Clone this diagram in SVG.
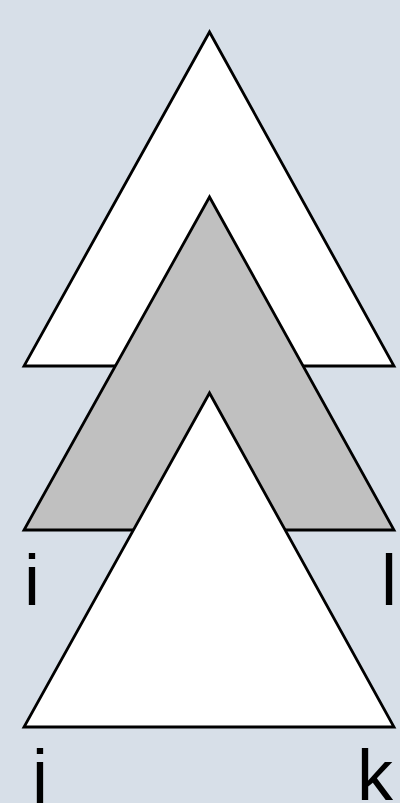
<svg xmlns="http://www.w3.org/2000/svg" width="400" height="803" viewBox="0 0 400 803">
<style>
.tri{stroke:#000;stroke-width:2.8;stroke-linejoin:miter}
.w{fill:#fff}
.g{fill:#c0c0c0}
.lbl{font-family:"Liberation Sans",Arial,sans-serif;font-size:72px;fill:#000}
</style>
<rect width="400" height="803" fill="#d7dfe8"/>
<g id="top"><polygon class="tri w" points="209.5,32 24,366 394,366"/></g>
<g id="middle"><polygon class="tri g" points="209.5,197 24,530 394,530"/></g>
<g id="bottom"><polygon class="tri w" points="209.5,393 24,727 394,727"/></g>
<g id="labels">
<text class="lbl" x="24" y="605">i</text>
<text class="lbl" x="381" y="605">l</text>
<text class="lbl" x="32" y="800">j</text>
<text class="lbl" x="357" y="800">k</text>
</g>
</svg>
